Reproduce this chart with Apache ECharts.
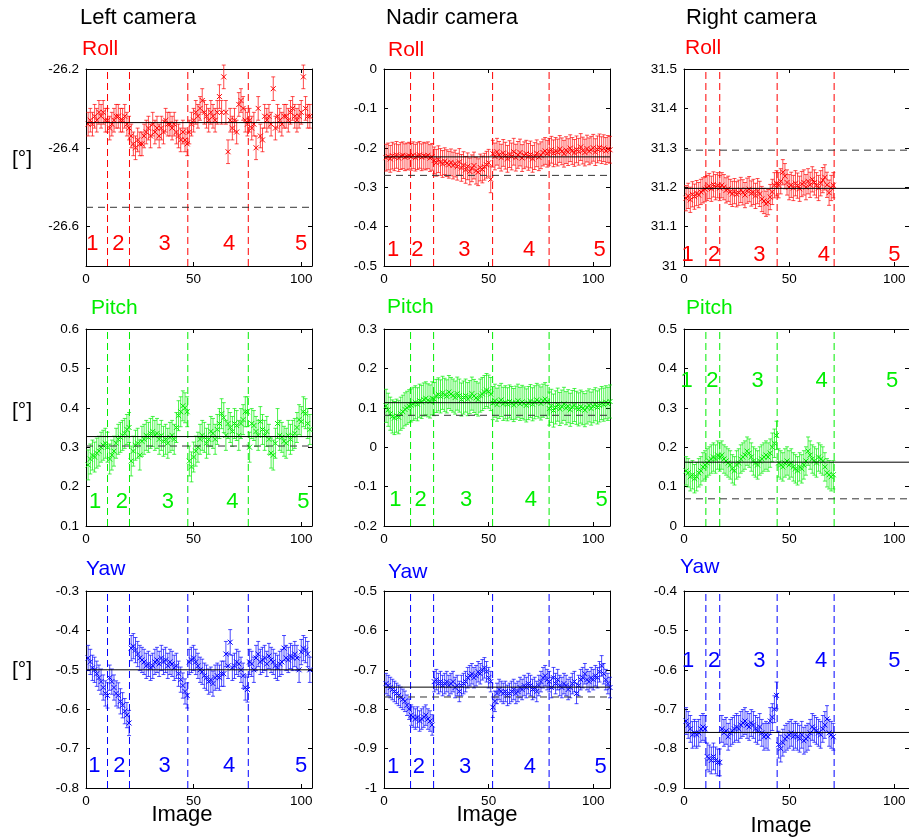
<!DOCTYPE html>
<html>
<head>
<meta charset="utf-8">
<title>Camera orientation per image</title>
<script src="https://cdn.jsdelivr.net/npm/echarts@6.0.0/dist/echarts.min.js"></script>
<style>
  html, body { margin: 0; padding: 0; background: #fff; }
  #chart { width: 909px; height: 840px; }
</style>
</head>
<body>
<div id="chart"></div>
<script>
// ---- values (x = image number 1..N) ----
var leftRoll = [
  -26.34, -26.33, -26.34, -26.32, -26.33, -26.31, -26.32, -26.31, -26.33, -26.33,
  -26.35, -26.34, -26.33, -26.32, -26.32, -26.33, -26.33, -26.32, -26.34, -26.35,
  -26.37, -26.39, -26.40, -26.38, -26.39, -26.39, -26.37, -26.36, -26.35, -26.37,
  -26.34, -26.36, -26.35, -26.37, -26.35, -26.36, -26.33, -26.34, -26.34, -26.35,
  -26.34, -26.36, -26.37, -26.38, -26.36, -26.38, -26.39,
  -26.36, -26.34, -26.33, -26.31, -26.32, -26.30, -26.28, -26.31, -26.32, -26.33,
  -26.31, -26.32, -26.33, -26.31, -26.27, -26.31, -26.22, -26.31, -26.41, -26.33,
  -26.35, -26.33, -26.36, -26.29, -26.28, -26.30, -26.33, -26.34,
  -26.33, -26.35, -26.34, -26.40, -26.30, -26.37, -26.38, -26.32, -26.33, -26.32,
  -26.34, -26.25, -26.35, -26.32, -26.33, -26.34, -26.32, -26.32, -26.33, -26.31,
  -26.30, -26.32, -26.33, -26.32, -26.31, -26.22, -26.30, -26.32, -26.32
];
var nadirRoll = [
  -0.225, -0.222, -0.228, -0.220, -0.224, -0.218, -0.226, -0.221, -0.219, -0.224, -0.222, -0.220,
  -0.223, -0.219, -0.225, -0.221, -0.218, -0.224, -0.220, -0.222, -0.219, -0.226, -0.223,
  -0.232, -0.238, -0.229, -0.236, -0.241, -0.234, -0.239, -0.243, -0.237, -0.245,
  -0.240, -0.248, -0.236, -0.251, -0.244, -0.256, -0.247, -0.260, -0.252, -0.245,
  -0.258, -0.262, -0.250, -0.255, -0.248, -0.243, -0.238, -0.280,
  -0.215, -0.222, -0.210, -0.218, -0.225, -0.213, -0.220, -0.228, -0.216, -0.222,
  -0.210, -0.225, -0.218, -0.212, -0.226, -0.219, -0.215, -0.223, -0.217, -0.228,
  -0.221, -0.214, -0.224, -0.219, -0.212, -0.208, -0.215,
  -0.210, -0.205, -0.214, -0.208, -0.212, -0.203, -0.209, -0.215, -0.206, -0.211,
  -0.201, -0.208, -0.213, -0.204, -0.210, -0.198, -0.207, -0.212, -0.202, -0.209,
  -0.205, -0.200, -0.211, -0.204, -0.199, -0.206, -0.201, -0.208, -0.203, -0.205
];
var rightRoll = [
  31.172, 31.178, 31.168, 31.182, 31.176, 31.185, 31.180, 31.188, 31.192, 31.195,
  31.198, 31.203, 31.196, 31.207, 31.200, 31.205, 31.198,
  31.205, 31.200, 31.192, 31.196, 31.188, 31.183, 31.190, 31.182, 31.186, 31.193,
  31.187, 31.180, 31.191, 31.195, 31.184, 31.188, 31.178, 31.190, 31.183, 31.170,
  31.165, 31.158, 31.162, 31.175, 31.188, 31.205, 31.210,
  31.205, 31.215, 31.238, 31.228, 31.212, 31.200, 31.206, 31.198, 31.210, 31.204,
  31.196, 31.208, 31.212, 31.200, 31.215, 31.206, 31.220, 31.212, 31.205, 31.198,
  31.210, 31.218, 31.225, 31.206, 31.186, 31.198, 31.205
];
var leftPitch = [
  0.255, 0.270, 0.280, 0.275, 0.285, 0.290, 0.300, 0.305, 0.310, 0.300,
  0.270, 0.280, 0.290, 0.310, 0.320, 0.325, 0.330, 0.335, 0.345, 0.350,
  0.265, 0.290, 0.305, 0.310, 0.280, 0.315, 0.320, 0.330, 0.325, 0.335,
  0.340, 0.330, 0.335, 0.320, 0.330, 0.315, 0.320, 0.310, 0.325, 0.330,
  0.320, 0.350, 0.380, 0.390, 0.405, 0.400, 0.390,
  0.265, 0.250, 0.275, 0.290, 0.300, 0.320, 0.330, 0.325, 0.310, 0.320,
  0.340, 0.335, 0.320, 0.345, 0.360, 0.385, 0.375, 0.330, 0.360, 0.350,
  0.340, 0.360, 0.355, 0.330, 0.360, 0.370, 0.390, 0.390,
  0.300, 0.360, 0.355, 0.340, 0.330, 0.365, 0.345, 0.330, 0.340, 0.320,
  0.285, 0.280, 0.310, 0.360, 0.330, 0.325, 0.315, 0.310, 0.330, 0.320,
  0.330, 0.335, 0.350, 0.370, 0.365, 0.390, 0.385, 0.360, 0.345
];
var nadirPitch = [
  0.105, 0.095, 0.085, 0.078, 0.074, 0.080, 0.076, 0.085, 0.090, 0.096, 0.100, 0.104,
  0.106, 0.110, 0.114, 0.109, 0.118, 0.115, 0.121, 0.124, 0.119, 0.116, 0.124,
  0.122, 0.130, 0.134, 0.129, 0.138, 0.133, 0.129, 0.140, 0.135, 0.131,
  0.126, 0.136, 0.131, 0.121, 0.126, 0.131, 0.122, 0.127, 0.136, 0.130,
  0.125, 0.121, 0.131, 0.135, 0.140, 0.145, 0.141, 0.135,
  0.112, 0.118, 0.108, 0.115, 0.120, 0.110, 0.114, 0.109, 0.116, 0.112,
  0.107, 0.113, 0.118, 0.110, 0.115, 0.111, 0.106, 0.112, 0.117, 0.109,
  0.114, 0.120, 0.116, 0.111, 0.118, 0.122, 0.115,
  0.098, 0.105, 0.093, 0.101, 0.108, 0.097, 0.103, 0.110, 0.099, 0.104,
  0.095, 0.102, 0.107, 0.100, 0.096, 0.103, 0.099, 0.094, 0.101, 0.106,
  0.098, 0.104, 0.109, 0.101, 0.106, 0.112, 0.108, 0.114, 0.110, 0.116
];
var rightPitch = [
  0.140, 0.135, 0.125, 0.130, 0.120, 0.125, 0.135, 0.140, 0.150, 0.155,
  0.160, 0.165, 0.170, 0.175, 0.170, 0.180, 0.175,
  0.180, 0.170, 0.165, 0.160, 0.155, 0.145, 0.140, 0.155, 0.160, 0.170,
  0.175, 0.180, 0.190, 0.185, 0.175, 0.165, 0.160, 0.155, 0.165, 0.170,
  0.175, 0.180, 0.175, 0.185, 0.200, 0.210, 0.230,
  0.160, 0.155, 0.150, 0.160, 0.165, 0.155, 0.160, 0.150, 0.145, 0.140,
  0.150, 0.145, 0.155, 0.165, 0.190, 0.180, 0.170, 0.165, 0.160, 0.175,
  0.170, 0.165, 0.150, 0.135, 0.130, 0.125, 0.130
];
var leftYaw = [
  -0.470, -0.480, -0.495, -0.500, -0.510, -0.520, -0.530, -0.545, -0.560, -0.565,
  -0.520, -0.530, -0.545, -0.560, -0.565, -0.580, -0.590, -0.605, -0.615, -0.635,
  -0.445, -0.440, -0.450, -0.460, -0.470, -0.475, -0.480, -0.490, -0.485, -0.495,
  -0.490, -0.480, -0.475, -0.485, -0.470, -0.480, -0.475, -0.490, -0.480, -0.485,
  -0.495, -0.490, -0.510, -0.525, -0.540, -0.555, -0.565,
  -0.480, -0.475, -0.470, -0.480, -0.490, -0.500, -0.505, -0.515, -0.520, -0.530,
  -0.525, -0.535, -0.520, -0.515, -0.520, -0.510, -0.510, -0.460, -0.490, -0.430,
  -0.495, -0.490, -0.480, -0.485, -0.500, -0.515, -0.545, -0.550,
  -0.480, -0.485, -0.500, -0.470, -0.460, -0.480, -0.475, -0.470, -0.485, -0.465,
  -0.475, -0.480, -0.490, -0.495, -0.485, -0.480, -0.445, -0.470, -0.475, -0.465,
  -0.470, -0.460, -0.470, -0.500, -0.455, -0.445, -0.450, -0.460, -0.500
];
var nadirYaw = [
  -0.735, -0.740, -0.745, -0.750, -0.755, -0.760, -0.765, -0.770, -0.775, -0.780, -0.790, -0.800,
  -0.815, -0.820, -0.825, -0.820, -0.830, -0.825, -0.820, -0.815, -0.825, -0.830, -0.840,
  -0.730, -0.725, -0.735, -0.730, -0.740, -0.735, -0.730, -0.740, -0.735, -0.730,
  -0.745, -0.740, -0.755, -0.740, -0.735, -0.730, -0.720, -0.715, -0.710, -0.720,
  -0.715, -0.705, -0.710, -0.700, -0.695, -0.705, -0.720, -0.730,
  -0.795, -0.780, -0.760, -0.750, -0.755, -0.760, -0.755, -0.765, -0.760, -0.755,
  -0.750, -0.760, -0.755, -0.745, -0.750, -0.740, -0.745, -0.735, -0.740, -0.750,
  -0.745, -0.755, -0.740, -0.730, -0.720, -0.715, -0.725,
  -0.730, -0.745, -0.720, -0.735, -0.725, -0.740, -0.745, -0.735, -0.740, -0.750,
  -0.745, -0.735, -0.730, -0.760, -0.740, -0.725, -0.720, -0.710, -0.725, -0.730,
  -0.720, -0.725, -0.715, -0.720, -0.705, -0.690, -0.710, -0.725, -0.735, -0.745
];
var rightYaw = [
  -0.730, -0.740, -0.750, -0.765, -0.760, -0.765, -0.760, -0.750, -0.745, -0.750,
  -0.820, -0.825, -0.830, -0.820, -0.830, -0.835, -0.835,
  -0.750, -0.760, -0.755, -0.770, -0.760, -0.755, -0.750, -0.745, -0.750, -0.740,
  -0.735, -0.730, -0.740, -0.745, -0.735, -0.740, -0.750, -0.755, -0.745, -0.760,
  -0.770, -0.765, -0.770, -0.730, -0.720, -0.700, -0.665,
  -0.790, -0.800, -0.785, -0.775, -0.770, -0.765, -0.760, -0.770, -0.765, -0.770,
  -0.775, -0.765, -0.780, -0.775, -0.770, -0.760, -0.745, -0.750, -0.755, -0.760,
  -0.765, -0.750, -0.740, -0.725, -0.760, -0.765, -0.770
];

// error bar half-widths per panel [row][column]
var errHalf = [
  [0.030, 0.034, 0.032],
  [0.038, 0.042, 0.036],
  [0.032, 0.026, 0.034]
];
// solid (mean) and dashed (reference) horizontal lines per panel
var meanLines = [
  [-26.336, -0.223, 31.197],
  [0.327, 0.113, 0.162],
  [-0.500, -0.744, -0.759]
];
var refLines = [
  [-26.551, -0.270, 31.294],
  [0.303, 0.081, 0.069],
  [null, -0.769, null]
];
// dashed block boundaries per camera
var leftSplits = [10, 20.2, 47.3, 75.4];
var nadirSplits = [12.7, 23.7, 51.9, 78.9];
var rightSplits = [10.4, 17, 44.3, 71.4];
var blockNames = ['1', '2', '3', '4', '5'];

// axes
var xMax = [105, 108, 107];
var xTicks = [0, 50, 100];
var yRanges = [
  [[-26.7, -26.2], [-0.5, 0], [31, 31.5]],
  [[0.1, 0.6], [-0.2, 0.3], [0, 0.5]],
  [[-0.8, -0.3], [-1, -0.5], [-0.9, -0.4]]
];
var yTicks = [
  [[-26.6, -26.4, -26.2], [-0.5, -0.4, -0.3, -0.2, -0.1, 0], [31, 31.1, 31.2, 31.3, 31.4, 31.5]],
  [[0.1, 0.2, 0.3, 0.4, 0.5, 0.6], [-0.2, -0.1, 0, 0.1, 0.2, 0.3], [0, 0.1, 0.2, 0.3, 0.4, 0.5]],
  [[-0.8, -0.7, -0.6, -0.5, -0.4, -0.3], [-1, -0.9, -0.8, -0.7, -0.6, -0.5], [-0.9, -0.8, -0.7, -0.6, -0.5, -0.4]]
];
var cameras = ['Left camera', 'Nadir camera', 'Right camera'];
var angles = ['Roll', 'Pitch', 'Yaw'];

// ---- layout ----
var FONT = '"Liberation Sans", Arial, sans-serif';
var colors = ['#ff0000', '#00ee00', '#0000ff'];
var colLeft = [86, 384, 684];
var rowTop = [69, 329, 591];
var plotW = 226, plotH = 197;
// block number positions in data coordinates [row][col]
var blockLabelPos = [
  [{x: [3, 15, 36.5, 66.5, 100], y: -26.645}, {x: [4.3, 15.9, 38.4, 69.4, 103], y: -0.46}, {x: [1.7, 14.3, 35.8, 66.5, 100], y: 31.027}],
  [{x: [4.2, 16.7, 38, 68, 101], y: 0.162}, {x: [5.4, 17.5, 39.2, 70.2, 104], y: -0.135}, {x: [1.3, 13.5, 35, 65.4, 99], y: 0.367}],
  [{x: [3.9, 15.5, 36.5, 66.5, 100], y: -0.745}, {x: [4.3, 16.7, 38.8, 69.7, 103.5], y: -0.947}, {x: [2, 14.3, 35.8, 65.2, 100], y: -0.578}]
];
var titlePos = [[80, 18], [386, 18], [686, 18]];
var anglePos = [
  [[82, 49], [388, 50], [685, 48]],
  [[91, 308], [387, 307], [686, 308]],
  [[86, 569], [388, 572], [680, 567]]
];
var unitPosY = [159, 411, 670];
var xNamePos = [[182, 815], [487, 815], [781, 826]];

function fmt(v) { return String(+v.toFixed(2)); }

function renderErrorBar(params, api) {
  var x = api.value(0), y = api.value(1), e = api.value(2);
  var mid = api.coord([x, y]);
  var hi = api.coord([x, y + e]);
  var lo = api.coord([x, y - e]);
  var c = api.visual('color');
  var bar = { stroke: c, lineWidth: 1, opacity: 0.7 };
  var mark = { stroke: c, lineWidth: 1 };
  var cap = 2, m = 2.5;
  return {
    type: 'group',
    children: [
      { type: 'line', shape: { x1: mid[0], y1: hi[1], x2: mid[0], y2: lo[1] }, style: bar },
      { type: 'line', shape: { x1: mid[0] - cap, y1: hi[1], x2: mid[0] + cap, y2: hi[1] }, style: bar },
      { type: 'line', shape: { x1: mid[0] - cap, y1: lo[1], x2: mid[0] + cap, y2: lo[1] }, style: bar },
      { type: 'line', shape: { x1: mid[0] - m, y1: mid[1] - m, x2: mid[0] + m, y2: mid[1] + m }, style: mark },
      { type: 'line', shape: { x1: mid[0] - m, y1: mid[1] + m, x2: mid[0] + m, y2: mid[1] - m }, style: mark }
    ]
  };
}

function axisBase(min, max, ticks, showLabel) {
  return {
    type: 'value', min: min, max: max,
    axisLine: { show: true, onZero: false, lineStyle: { color: '#000', width: 1 } },
    splitLine: { show: false },
    axisTick: { show: true, inside: true, length: 4, customValues: ticks, lineStyle: { color: '#000' } },
    axisLabel: {
      show: showLabel, customValues: ticks, formatter: fmt,
      color: '#000', fontSize: 13.5, fontFamily: FONT
    }
  };
}

var values = [
  [leftRoll, nadirRoll, rightRoll],
  [leftPitch, nadirPitch, rightPitch],
  [leftYaw, nadirYaw, rightYaw]
];
var splits = [leftSplits, nadirSplits, rightSplits];

var grid = [], xAxis = [], yAxis = [], series = [], graphic = [];

for (var r = 0; r < 3; r++) {
  for (var c = 0; c < 3; c++) {
    var k = r * 3 + c;
    var yMin = yRanges[r][c][0], yMax = yRanges[r][c][1];
    var col = colors[r];
    grid.push({ left: colLeft[c], top: rowTop[r], width: plotW, height: plotH });

    var xb = axisBase(0, xMax[c], xTicks, true);
    xb.gridIndex = k; xb.position = 'bottom'; xb.axisLabel.margin = 6;
    var xt = axisBase(0, xMax[c], xTicks, false);
    xt.gridIndex = k; xt.position = 'top';
    xAxis.push(xb, xt);

    var yl = axisBase(yMin, yMax, yTicks[r][c], true);
    yl.gridIndex = k; yl.position = 'left'; yl.axisLabel.margin = 7;
    var yr = axisBase(yMin, yMax, yTicks[r][c], false);
    yr.gridIndex = k; yr.position = 'right';
    yAxis.push(yl, yr);

    var xi = 2 * k, yi = 2 * k;

    // block boundaries
    splits[c].forEach(function (s) {
      series.push({
        type: 'line', xAxisIndex: xi, yAxisIndex: yi, silent: true, symbol: 'none', z: 1,
        data: [[s, yMin], [s, yMax]],
        itemStyle: { color: col },
        lineStyle: { color: col, width: 1, type: [7, 4] }
      });
    });

    // measurements with error bars
    var e = errHalf[r][c];
    series.push({
      type: 'custom', xAxisIndex: xi, yAxisIndex: yi, z: 2,
      itemStyle: { color: col },
      encode: { x: 0, y: 1 },
      data: values[r][c].map(function (v, i) { return [i + 1, v, e]; }),
      renderItem: renderErrorBar
    });

    // mean (solid) and reference (dashed) lines
    series.push({
      type: 'line', xAxisIndex: xi, yAxisIndex: yi, silent: true, symbol: 'none', z: 3,
      data: [[0, meanLines[r][c]], [xMax[c], meanLines[r][c]]],
      lineStyle: { color: '#000', width: 1 }
    });
    if (refLines[r][c] !== null) {
      series.push({
        type: 'line', xAxisIndex: xi, yAxisIndex: yi, silent: true, symbol: 'none', z: 3,
        data: [[0, refLines[r][c]], [xMax[c], refLines[r][c]]],
        lineStyle: { color: '#333', width: 1, type: [7, 5] }
      });
    }

    // block numbers
    var pos = blockLabelPos[r][c];
    series.push({
      type: 'custom', xAxisIndex: xi, yAxisIndex: yi, silent: true, z: 4,
      encode: { x: 0, y: 1 },
      data: pos.x.map(function (x, i) { return [x, pos.y, i]; }),
      renderItem: (function (color) {
        return function (params, api) {
          var p = api.coord([api.value(0), api.value(1)]);
          return {
            type: 'text', x: p[0], y: p[1],
            style: {
              text: blockNames[api.value(2)], fill: color, font: '22px ' + FONT,
              align: 'center', verticalAlign: 'middle',
              textAlign: 'center', textVerticalAlign: 'middle'
            }
          };
        };
      })(col)
    });

    // row label (Roll / Pitch / Yaw)
    graphic.push({
      type: 'text', x: anglePos[r][c][0], y: anglePos[r][c][1],
      style: { text: angles[r], fill: col, font: '21px ' + FONT, verticalAlign: 'middle', textVerticalAlign: 'middle' }
    });
  }
}

for (var i = 0; i < 3; i++) {
  graphic.push({
    type: 'text', x: titlePos[i][0], y: titlePos[i][1],
    style: { text: cameras[i], fill: '#000', font: '22px ' + FONT, verticalAlign: 'middle', textVerticalAlign: 'middle' }
  });
  graphic.push({
    type: 'text', x: 12, y: unitPosY[i],
    style: { text: '[°]', fill: '#000', font: '21px ' + FONT, verticalAlign: 'middle', textVerticalAlign: 'middle' }
  });
  graphic.push({
    type: 'text', x: xNamePos[i][0], y: xNamePos[i][1],
    style: {
      text: 'Image', fill: '#000', font: '22px ' + FONT,
      align: 'center', verticalAlign: 'middle', textAlign: 'center', textVerticalAlign: 'middle'
    }
  });
}

var chart = echarts.init(document.getElementById('chart'), null, { renderer: 'canvas' });
chart.setOption({
  animation: false,
  backgroundColor: '#fff',
  grid: grid,
  xAxis: xAxis,
  yAxis: yAxis,
  series: series,
  graphic: graphic
});
</script>
</body>
</html>
